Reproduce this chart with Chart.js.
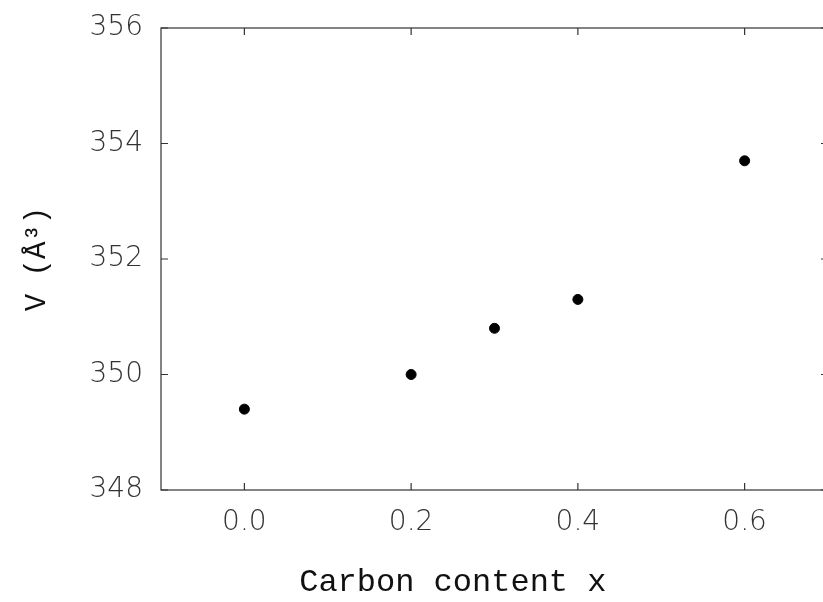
<!DOCTYPE html>
<html>
<head>
<meta charset="utf-8">
<script src="https://cdn.jsdelivr.net/npm/chart.js@4"></script>
<style>
  html, body { margin: 0; padding: 0; background: #fff; overflow: hidden; }
  #wrap { width: 840px; height: 602px; }
</style>
</head>
<body>
<div id="wrap"><canvas id="volChart" width="840" height="602"></canvas></div>
<script>
const carbonX = [0.0, 0.2, 0.3, 0.4, 0.6];
const volumeV = [349.4, 350.0, 350.8, 351.3, 353.7];
const xTicks = [0.0, 0.2, 0.4, 0.6];
const yTicks = [348, 350, 352, 354, 356];
const xTitle = 'Carbon content x';

// inward tick marks on all four sides + frame, like the original plot
const frameTicks = {
    id: 'frameTicks',
    afterDraw(chart) {
        const { ctx, chartArea: a, scales } = chart;
        const len = 7;
        ctx.save();
        ctx.strokeStyle = '#333';
        ctx.lineWidth = 1.2;
        ctx.strokeRect(a.left, a.top, a.right - a.left, a.bottom - a.top);
        ctx.beginPath();
        scales.x.ticks.forEach(t => {
            const px = scales.x.getPixelForValue(t.value);
            ctx.moveTo(px, a.bottom); ctx.lineTo(px, a.bottom - len);
            ctx.moveTo(px, a.top); ctx.lineTo(px, a.top + len);
        });
        scales.y.ticks.forEach(t => {
            const py = scales.y.getPixelForValue(t.value);
            ctx.moveTo(a.left, py); ctx.lineTo(a.left + len, py);
            ctx.moveTo(a.right, py); ctx.lineTo(a.right - len, py);
        });
        ctx.stroke();
        // x title sits a bit left of the frame centre in the original
        ctx.fillStyle = '#111';
        ctx.font = '32px "Liberation Mono"';
        ctx.textAlign = 'center';
        ctx.textBaseline = 'middle';
        ctx.fillText(xTitle, scales.x.getPixelForValue(0.25), 583);
        ctx.restore();
    }
};

new Chart(document.getElementById('volChart'), {
    type: 'scatter',
    data: {
        datasets: [{
            data: carbonX.map((x, i) => ({ x: x, y: volumeV[i] })),
            backgroundColor: '#000',
            borderColor: '#000',
            pointRadius: 5,
            pointHoverRadius: 5
        }]
    },
    options: {
        responsive: false,
        animation: false,
        events: [],
        layout: { padding: { left: 0, top: 28, right: 12, bottom: 0 } },
        plugins: { legend: { display: false }, tooltip: { enabled: false } },
        scales: {
            x: {
                type: 'linear',
                min: -0.1,
                max: 0.7,
                afterBuildTicks: s => { s.ticks = xTicks.map(v => ({ value: v })); },
                afterFit: s => { s.height = 112; s.paddingLeft = 0; s.paddingRight = 0; },
                grid: { display: false, drawTicks: false },
                border: { display: false },
                ticks: {
                    padding: 16,
                    color: '#333',
                    font: { family: 'DejaVu Sans', size: 28, weight: 200 },
                    callback: v => v.toFixed(1)
                }
            },
            y: {
                type: 'linear',
                min: 348,
                max: 356,
                afterBuildTicks: s => { s.ticks = yTicks.map(v => ({ value: v })); },
                afterFit: s => { s.width = 161; s.paddingTop = 0; s.paddingBottom = 0; },
                grid: { display: false, drawTicks: false },
                border: { display: false },
                ticks: {
                    padding: 18,
                    color: '#333',
                    font: { family: 'DejaVu Sans', size: 28, weight: 200 }
                },
                title: {
                    display: true,
                    text: 'V (Å³)',
                    color: '#111',
                    font: { family: 'Liberation Mono', size: 29 },
                    padding: { top: 20, bottom: 0 }
                }
            }
        }
    },
    plugins: [frameTicks]
});
</script>
</body>
</html>
